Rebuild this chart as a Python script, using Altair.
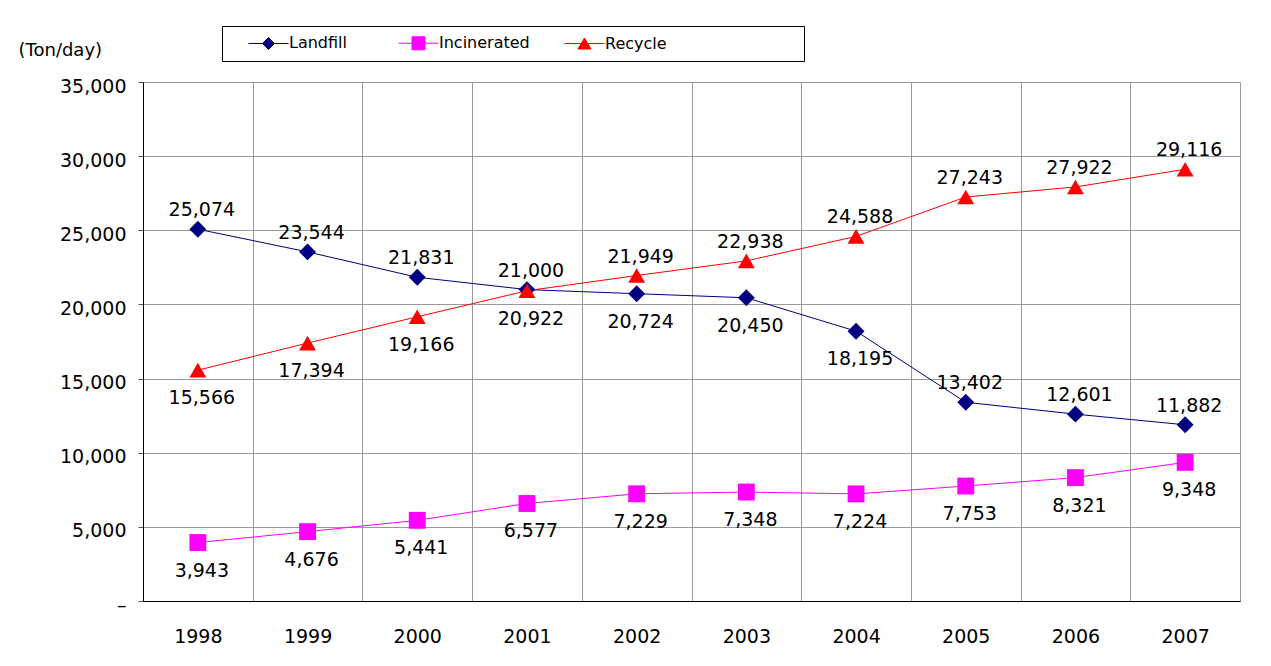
import altair as alt
import pandas as pd

# ---------------- data ----------------
YEARS = [1998, 1999, 2000, 2001, 2002, 2003, 2004, 2005, 2006, 2007]
SERIES = ["Landfill", "Incinerated", "Recycle"]
LANDFILL = [25074, 23544, 21831, 21000, 20724, 20450, 18195, 13402, 12601, 11882]
INCINERATED = [3943, 4676, 5441, 6577, 7229, 7348, 7224, 7753, 8321, 9348]
RECYCLE = [15566, 17394, 19166, 20922, 21949, 22938, 24588, 27243, 27922, 29116]
Y_TICKS = [0, 5000, 10000, 15000, 20000, 25000, 30000, 35000]
UNIT_LABEL = "(Ton/day)"

# ---------------- style ----------------
COLORS = ["#000080", "#FF00FF", "#FF0000"]
SHAPES = ["diamond", "square", "triangle-up"]
# legend symbols: a short line through a small marker (units of sqrt(size)/2);
# the trailing move-to only widens the legend entry
LEGEND_PATHS = [
    "M1.35,0H7.07M4.21,-0.86L5.07,0L4.21,0.86L3.35,0ZM19.86,0",
    "M1.35,0H7.07M3.28,-0.93H5.14V0.93H3.28ZM22.2,0",
    "M1.35,0H7.07M4.21,-0.79L5.14,0.79H3.28ZM33.86,0",
]
# which data labels sit above their marker (others sit below)
LABEL_ABOVE = {
    "Landfill": [1998, 1999, 2000, 2001, 2005, 2006, 2007],
    "Incinerated": [],
    "Recycle": [2002, 2003, 2004, 2005, 2006, 2007],
}
FONT = "DejaVu Sans"

values = {"Landfill": LANDFILL, "Incinerated": INCINERATED, "Recycle": RECYCLE}
rows = []
for s in SERIES:
    for y, v in zip(YEARS, values[s]):
        rows.append({"year": y, "series": s, "name": s, "value": v,
                     "side": "above" if y in LABEL_ABOVE[s] else "below"})
df = pd.DataFrame(rows)

x_enc = alt.X(
    "year:O", title=None,
    scale=alt.Scale(type="band", paddingInner=0, paddingOuter=0),
    axis=alt.Axis(labelAngle=0, tickBand="extent", grid=True, gridColor="#999999",
                  gridWidth=1, ticks=False, labelPadding=26, labelFont=FONT,
                  labelFontSize=19, labelColor="black", domainColor="black",
                  domainWidth=1),
)
y_enc = alt.Y(
    "value:Q",
    scale=alt.Scale(domain=[0, 35000], nice=False),
    axis=alt.Axis(values=Y_TICKS, format=",.0f", grid=True, gridColor="#999999",
                  gridWidth=1, tickSize=5, tickColor="#555555", labelPadding=12,
                  labelOffset=4, labelFont=FONT, labelFontSize=19, labelColor="black",
                  labelExpr="datum.value == 0 ? '\u2013\u00a0\u00a0' : datum.label",
                  domainColor="black", domainWidth=1,
                  title=UNIT_LABEL, titleAngle=0, titleX=-125, titleY=-32,
                  titleAlign="left", titleBaseline="middle", titleFont=FONT,
                  titleFontSize=18, titleFontWeight="normal", titleColor="black"),
)

color_scale = alt.Scale(domain=SERIES, range=COLORS)

base = alt.Chart(df)

lines = base.mark_line(strokeWidth=1).encode(
    x=x_enc, y=y_enc,
    color=alt.Color("series:N", scale=color_scale, legend=None),
)

point_layers = []
for s, c, shp in zip(SERIES, COLORS, SHAPES):
    point_layers.append(
        base.transform_filter(alt.datum.series == s)
        .mark_point(filled=True, opacity=1, size=285, shape=shp, color=c)
        .encode(x=x_enc, y=y_enc)
    )

legend = alt.Legend(
    title=None,
    labelExpr="datum.label == 'Recycle' ? '\u00a0\u00a0\u00a0Recycle' : datum.label",
)

# legend-only layer: no rows survive the filter, so it draws nothing in the plot
legend_layer = base.transform_filter("datum.value < 0").mark_point(filled=True, opacity=1, size=196).encode(
    x=x_enc, y=y_enc,
    fill=alt.Fill("name:N", scale=alt.Scale(domain=SERIES, range=COLORS), legend=legend),
    stroke=alt.Stroke("name:N", scale=alt.Scale(domain=SERIES, range=COLORS), legend=legend),
    shape=alt.Shape("name:N", scale=alt.Scale(domain=SERIES, range=LEGEND_PATHS), legend=legend),
)

text_kw = dict(font=FONT, fontSize=19, color="black", baseline="middle", align="center", dx=4)
labels_above = base.transform_filter("datum.side == 'above'").mark_text(dy=-19, **text_kw).encode(
    x=x_enc, y=y_enc, text=alt.Text("value:Q", format=","),
)
labels_below = base.transform_filter("datum.side == 'below'").mark_text(dy=28, **text_kw).encode(
    x=x_enc, y=y_enc, text=alt.Text("value:Q", format=","),
)

chart = (
    alt.layer(lines, *point_layers, legend_layer, labels_above, labels_below)
    .resolve_scale(fill="independent", stroke="independent", shape="independent")
    .resolve_legend(fill="independent", stroke="independent", shape="independent")
    .properties(
        width=1097, height=519,
        autosize=alt.AutoSizeParams(type="none"),
        padding={"left": 135, "top": 74, "right": 20, "bottom": 50},
        background="white",
    )
    .configure_view(strokeWidth=0)
    .configure_legend(
        orient="none", legendX=79, legendY=-56, direction="horizontal",
        symbolSize=196, symbolStrokeWidth=1, symbolOpacity=1,
        labelFont=FONT, labelFontSize=16, labelColor="black", labelOffset=42,
        columnPadding=0, padding=9, strokeColor="black", fillColor="white",
    )
)

chart.save("out.html", embed_options={"renderer": "svg", "actions": False})
